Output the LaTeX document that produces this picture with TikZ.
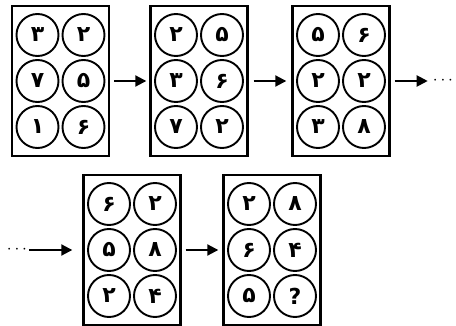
\documentclass[tikz,border=0pt]{standalone}
\usepackage{fontspec}
\newfontfamily\fa[Script=Arabic]{DejaVu Sans}
\usetikzlibrary{arrows.meta}
\newcommand\mycard[9]{%
  \node[card] (#1) at (#2,#3) {};
  \node[ball] (#1a) at (#2-23,#3-46) {#4};
  \node[ball] (#1b) at (#2+23,#3-46) {#5};
  \node[ball] (#1c) at (#2-23,#3) {#6};
  \node[ball] (#1d) at (#2+23,#3) {#7};
  \node[ball] (#1e) at (#2-23,#3+46) {#8};
  \node[ball] (#1f) at (#2+23,#3+46) {#9};
}
\begin{document}
\begin{tikzpicture}[x=1pt,y=-1pt,
  card/.style={draw,line width=2.4pt,minimum width=97pt,minimum height=150pt,inner sep=0pt},
  ball/.style={draw,circle,line width=1.9pt,minimum size=42pt,inner sep=0pt,font=\fa\bfseries\fontsize{22}{22}\selectfont},
  arr/.style={line width=2pt,-{Triangle[length=11pt,width=11pt]}},
  dots/.style={inner sep=0pt,font=\LARGE}]
\useasboundingbox (0,0) rectangle (456,326);
\mycard{b1}{60.5}{81}{۳}{۲}{۷}{۵}{۱}{۶}
\mycard{b2}{199}{81}{۲}{۵}{۳}{۶}{۷}{۲}
\mycard{b3}{341}{81}{۵}{۶}{۲}{۲}{۳}{۸}
\mycard{b4}{132}{250}{۶}{۲}{۵}{۸}{۲}{۴}
\mycard{b5}{272}{250}{۲}{۸}{۶}{۴}{۵}{?}
\node[dots] (d1) at (443,81) {$\cdots$};
\node[dots] (d2) at (17,250) {$\cdots$};
\draw[arr,shorten <=4pt,shorten >=3pt] (b1.east) -- (b2.west);
\draw[arr,shorten <=5pt,shorten >=5pt] (b2.east) -- (b3.west);
\draw[arr,shorten <=4pt,shorten >=5pt] (b3.east) -- (d1.west);
\draw[arr,shorten <=2pt,shorten >=10pt] (d2.east) -- (b4.west);
\draw[arr,shorten <=4pt,shorten >=4pt] (b4.east) -- (b5.west);
\end{tikzpicture}
\end{document}
